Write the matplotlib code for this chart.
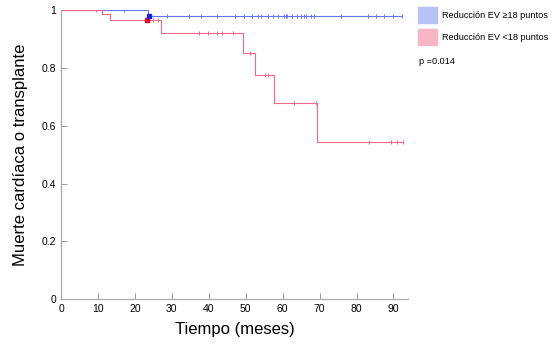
import matplotlib
matplotlib.use("Agg")
import matplotlib.pyplot as plt
import matplotlib.patches as mpatches
import numpy as np

plt.rcParams['font.family'] = ['Liberation Sans', 'DejaVu Sans']

# Kaplan-Meier steps (time in months, survival)
blue_t = [0, 23.5, 92.4]
blue_s = [1.0, 0.978, 0.978]
blue_cens = [17.0, 28.7, 34.7, 37.8, 42.3, 47.2, 49.5, 51.8, 53.3, 54.2, 56.0,
             57.4, 58.7, 60.3, 60.8, 61.3, 62.4, 63.9, 64.9, 65.9, 66.4, 67.6,
             68.6, 75.9, 83.1, 85.3, 87.4, 89.8, 92.4]

red_t = [0, 11.1, 13.2, 27.0, 49.3, 52.4, 57.6, 69.2, 92.5]
red_s = [1.0, 0.985, 0.967, 0.922, 0.851, 0.775, 0.677, 0.542, 0.542]
red_cens = [9.5, 24.9, 26.2, 37.4, 39.8, 42.2, 43.7, 46.6, 51.1, 55.1, 56.0,
            63.0, 68.9, 83.5, 89.4, 91.0, 92.5]

blue_line = '#6677f2'
red_line = '#f26a88'


def step_value(t, s, x):
    idx = np.searchsorted(t, x, side='right') - 1
    return np.array(s)[idx]


fig = plt.figure(figsize=(5.6, 3.49), dpi=100)
ax = fig.add_axes([0.109, 0.143, 0.62, 0.828])

ax.step(blue_t, blue_s, where='post', color=blue_line, lw=0.8)
ax.step(red_t, red_s, where='post', color=red_line, lw=0.8)
ax.plot(blue_cens, step_value(blue_t, blue_s, blue_cens), ls='none',
        marker='|', ms=3, mew=0.7, color=blue_line)
ax.plot(red_cens, step_value(red_t, red_s, red_cens), ls='none',
        marker='|', ms=3, mew=0.7, color=red_line)

# event markers at the first blue death
ax.plot([23.4], [0.967], 's', ms=3.5, color='#e0102a')
ax.plot([23.9], [0.978], 's', ms=3.5, color='#1424d0')

ax.set_xlim(0, 94)
ax.set_ylim(0, 1)
ax.set_xticks(range(0, 91, 10))
ax.set_yticks([0, 0.2, 0.4, 0.6, 0.8, 1])
ax.set_yticklabels(['0', '0.2', '0.4', '0.6', '0.8', '1'])
ax.tick_params(direction='in', length=4, labelsize=7.5, color='#999999', width=0.7)
for side in ['top', 'right']:
    ax.spines[side].set_visible(False)
for side in ['left', 'bottom']:
    ax.spines[side].set_color('#aaaaaa')
    ax.spines[side].set_linewidth(0.9)

ax.set_xlabel('Tiempo (meses)', fontsize=12, labelpad=6)
ax.set_ylabel('Muerte cardíaca o transplante', fontsize=12, labelpad=10)

handles = [mpatches.Patch(color='#b7c3f7', label='Reducción EV ≥18 puntos'),
           mpatches.Patch(color='#f9b4c6', label='Reducción EV <18 puntos')]
fig.legend(handles=handles, loc='upper left', bbox_to_anchor=(0.737, 0.995),
           frameon=False, fontsize=6.6, handlelength=2.0, handleheight=2.2,
           handletextpad=0.6, labelspacing=0.75, borderaxespad=0.2)
fig.text(0.749, 0.825, 'p =0.014', fontsize=6.6, va='center')

fig.savefig('out.png', dpi=100)
